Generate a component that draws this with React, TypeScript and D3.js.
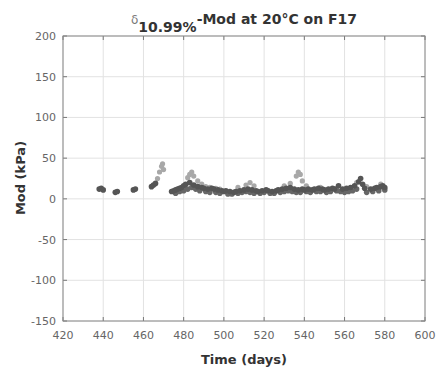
import React from "react";
import * as d3 from "d3";

const xTicks = [420, 440, 460, 480, 500, 520, 540, 560, 580, 600];
const yTicks = [-150, -100, -50, 0, 50, 100, 150, 200];

const darkDays = [438, 439, 440, 446, 447, 455, 456, 464, 465, 466, 474, 475, 476, 477, 478, 479, 480, 481, 483, 485, 487, 489, 490, 492, 494, 495, 497, 499, 500, 501, 503, 505, 506, 508, 510, 512, 514, 516, 517, 519, 521, 522, 524, 526, 527, 529, 531, 533, 535, 537, 539, 540, 542, 544, 545, 547, 549, 550, 552, 554, 555, 557, 559, 561, 563, 565, 567, 568, 569, 570, 573, 575, 576, 578, 579, 580];
const darkVals = [12, 13, 11, 8, 9, 11, 12, 15, 17, 19, 9, 10, 11, 12, 13, 14, 16, 18, 20, 17, 15, 14, 13, 12, 13, 12, 11, 10, 9, 10, 9, 8, 9, 10, 11, 12, 11, 10, 9, 10, 11, 10, 9, 10, 11, 12, 13, 14, 12, 11, 12, 11, 12, 11, 12, 13, 12, 11, 12, 13, 12, 16, 12, 13, 14, 16, 21, 25, 18, 13, 12, 13, 14, 15, 16, 14];

const dark2Days = [476, 478, 480, 482, 484, 486, 488, 491, 493, 496, 498, 502, 504, 507, 509, 511, 513, 515, 518, 520, 523, 525, 528, 530, 532, 534, 536, 538, 541, 543, 546, 548, 551, 553, 556, 558, 560, 562, 564, 566, 571, 574, 577, 580];
const dark2Vals = [7, 9, 10, 12, 14, 12, 10, 9, 8, 8, 7, 6, 6, 7, 8, 9, 8, 7, 7, 8, 7, 7, 8, 9, 10, 9, 8, 8, 9, 8, 9, 9, 8, 9, 10, 9, 8, 9, 10, 12, 8, 9, 10, 11];

const lightDays = [467, 468, 469, 469.5, 470, 482, 483, 484, 485, 487, 489, 491, 493, 496, 498, 507, 511, 513, 515, 530, 533, 536, 537, 538, 539, 541, 548, 556, 566, 571, 578];
const lightVals = [25, 33, 40, 43, 36, 26, 30, 33, 28, 22, 18, 15, 14, 13, 12, 14, 17, 20, 16, 16, 19, 28, 33, 30, 22, 16, 14, 13, 20, 15, 18];

export default function App() {
  const W = 439, H = 369;
  const L = 63, R = 425, T = 36, B = 321;
  const x = d3.scaleLinear().domain([420, 600]).range([L, R]);
  const y = d3.scaleLinear().domain([-150, 200]).range([B, T]);
  const font = "'DejaVu Sans', 'Liberation Sans', Arial, sans-serif";
  const tickCol = "#666";
  return (
    <svg width={W} height={H} style={{ position: "absolute", left: 0, top: 0, background: "#fff" }} fontFamily={font}>
      <rect x={0} y={0} width={W} height={H} fill="#fff" />
      {xTicks.map((t) => (
        <line key={"gx" + t} x1={x(t)} x2={x(t)} y1={T} y2={B} stroke="#e2e2e2" strokeWidth={1} />
      ))}
      {yTicks.map((t) => (
        <line key={"gy" + t} x1={L} x2={R} y1={y(t)} y2={y(t)} stroke="#e2e2e2" strokeWidth={1} />
      ))}
      {xTicks.map((t) => (
        <g key={"tx" + t}>
          <line x1={x(t)} x2={x(t)} y1={B} y2={B - 4} stroke="#777" />
          <line x1={x(t)} x2={x(t)} y1={T} y2={T + 4} stroke="#777" />
          <text x={x(t)} y={339} textAnchor="middle" fontSize={11} fill={tickCol}>{t}</text>
        </g>
      ))}
      {yTicks.map((t) => (
        <g key={"ty" + t}>
          <line x1={L} x2={L + 4} y1={y(t)} y2={y(t)} stroke="#777" />
          <line x1={R} x2={R - 4} y1={y(t)} y2={y(t)} stroke="#777" />
          <text x={56} y={y(t) + 4} textAnchor="end" fontSize={11} fill={tickCol}>{t}</text>
        </g>
      ))}
      <rect x={L} y={T} width={R - L} height={B - T} fill="none" stroke="#888" strokeWidth={1} />
      {lightDays.map((d, i) => (
        <circle key={"l" + i} cx={x(d)} cy={y(lightVals[i])} r={2.6} fill="#a8a8a8" />
      ))}
      {dark2Days.map((d, i) => (
        <circle key={"e" + i} cx={x(d)} cy={y(dark2Vals[i])} r={2.8} fill="#666" />
      ))}
      {darkDays.map((d, i) => (
        <circle key={"d" + i} cx={x(d)} cy={y(darkVals[i])} r={2.8} fill="#555" />
      ))}
      <text x={244} y={24} textAnchor="middle" fill="#333" fontWeight="bold" fontSize={14}>
        <tspan fontWeight="normal" fontSize={12} fill="#777">δ</tspan>
        <tspan dy={8} fontSize={14}>10.99%</tspan>
        <tspan dy={-8}>-Mod at 20°C on F17</tspan>
      </text>
      <text x={244} y={364} textAnchor="middle" fontWeight="bold" fontSize={13} fill="#333">Time (days)</text>
      <text transform="translate(25,178) rotate(-90)" textAnchor="middle" fontWeight="bold" fontSize={13} fill="#333">Mod (kPa)</text>
    </svg>
  );
}
